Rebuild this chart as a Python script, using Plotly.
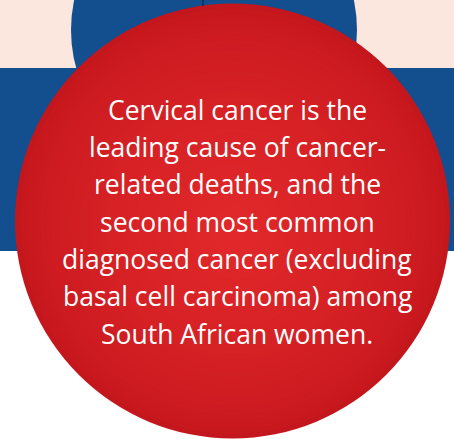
import plotly.graph_objects as go

W, H = 454, 439

# Text content
lines = [
    "Cervical cancer is the",
    "leading cause of cancer-",
    "related deaths, and the",
    "second most common",
    "diagnosed cancer (excluding",
    "basal cell carcinoma) among",
    "South African women.",
]
baselines = [118, 155, 192, 230, 267, 304, 342]

# Colours
peach = "#FBE7DD"
blue = "#134E8E"
red_edge = (196, 22, 29)
red_mid = (226, 40, 42)

fig = go.Figure()
shapes = []
shapes.append(dict(type="rect", x0=0, x1=W, y0=0, y1=68, fillcolor=peach, line_width=0, layer="below"))
shapes.append(dict(type="rect", x0=0, x1=W, y0=68, y1=251, fillcolor=blue, line_width=0, layer="below"))
cx_b, cy_b, r_b = 214, 30, 143
shapes.append(dict(type="circle", x0=cx_b - r_b, x1=cx_b + r_b, y0=cy_b - r_b, y1=cy_b + r_b,
                   fillcolor=blue, line_width=0, layer="below"))
shapes.append(dict(type="line", x0=203, x1=203, y0=0, y1=6, line=dict(color="#0B2F5E", width=1.5)))

cx, cy, R = 232.5, 221, 217.5
n = 45
for i in range(n):
    t = i / (n - 1)
    r = R * (1 - t)
    if r < 1:
        break
    f = t ** 0.6
    col = tuple(int(round(red_edge[k] + (red_mid[k] - red_edge[k]) * f)) for k in range(3))
    ccx = cx + (236 - cx) * t
    ccy = cy + (232 - cy) * t
    shapes.append(dict(type="circle", x0=ccx - r, x1=ccx + r, y0=ccy - r, y1=ccy + r,
                       fillcolor="rgb(%d,%d,%d)" % col, line_width=0, layer="below"))

fs = 26.5
annotations = []
for txt, b in zip(lines, baselines):
    annotations.append(dict(x=237, y=b - 8.5, xref="x", yref="y", text=txt, showarrow=False,
                            xanchor="center", yanchor="middle",
                            font=dict(family="Open Sans", size=fs, color="white")))

fig.update_layout(
    width=W, height=H,
    margin=dict(l=0, r=0, t=0, b=0),
    paper_bgcolor="white", plot_bgcolor="white",
    xaxis=dict(range=[0, W], visible=False, fixedrange=True),
    yaxis=dict(range=[H, 0], visible=False, fixedrange=True),
    shapes=shapes, annotations=annotations, showlegend=False,
)
fig.write_html("out.html", config={"displayModeBar": False},
               post_script="document.body.style.margin='0';document.body.style.overflow='hidden';")
